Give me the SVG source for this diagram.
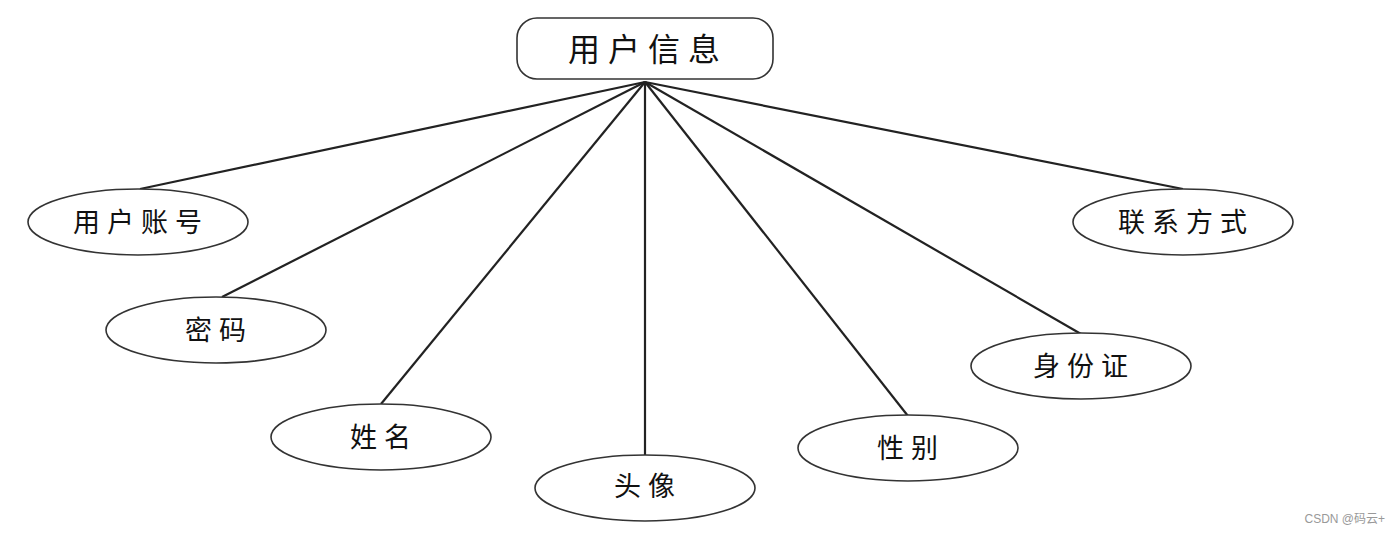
<svg xmlns="http://www.w3.org/2000/svg" width="1400" height="534" viewBox="0 0 1400 534">
<style>
.n{fill:#fff;stroke:#333;stroke-width:1.6}
.t{font-family:"Noto Sans CJK SC","Liberation Sans",sans-serif;fill:#111;text-anchor:middle;dominant-baseline:central}
.e{font-size:27px;letter-spacing:7px}
.c line{stroke:#222;stroke-width:2.2}
</style>
<rect width="1400" height="534" fill="#fff"/>
<g class="c" id="connectors">
<line x1="645" y1="82" x2="140" y2="189"/>
<line x1="645" y1="82" x2="222" y2="297"/>
<line x1="645" y1="82" x2="381" y2="404"/>
<line x1="645" y1="82" x2="645" y2="455"/>
<line x1="645" y1="82" x2="908" y2="416"/>
<line x1="645" y1="82" x2="1081" y2="334"/>
<line x1="645" y1="82" x2="1183" y2="189"/>
</g>
<g id="root"><rect class="n" x="517" y="18" width="256" height="61" rx="20"/><text class="t" x="648" y="47" style="font-size:32px;letter-spacing:8px">用户信息</text></g>
<g id="n1"><ellipse class="n" cx="138" cy="222" rx="110" ry="33"/><text class="t e" x="141" y="220">用户账号</text></g>
<g id="n2"><ellipse class="n" cx="216" cy="330" rx="110" ry="33"/><text class="t e" x="219" y="328">密码</text></g>
<g id="n3"><ellipse class="n" cx="381" cy="437" rx="110" ry="33"/><text class="t e" x="384" y="435">姓名</text></g>
<g id="n4"><ellipse class="n" cx="645" cy="488" rx="110" ry="33"/><text class="t e" x="648" y="484">头像</text></g>
<g id="n5"><ellipse class="n" cx="908" cy="448" rx="110" ry="33"/><text class="t e" x="911" y="446">性别</text></g>
<g id="n6"><ellipse class="n" cx="1081" cy="366" rx="110" ry="33"/><text class="t e" x="1084" y="364">身份证</text></g>
<g id="n7"><ellipse class="n" cx="1183" cy="222" rx="110" ry="33"/><text class="t e" x="1186" y="220">联系方式</text></g>
<text x="1385" y="519" style="font-family:'Liberation Sans','Noto Sans CJK SC',sans-serif;font-size:12px;fill:#999;text-anchor:end;dominant-baseline:central">CSDN @码云+</text>
</svg>
